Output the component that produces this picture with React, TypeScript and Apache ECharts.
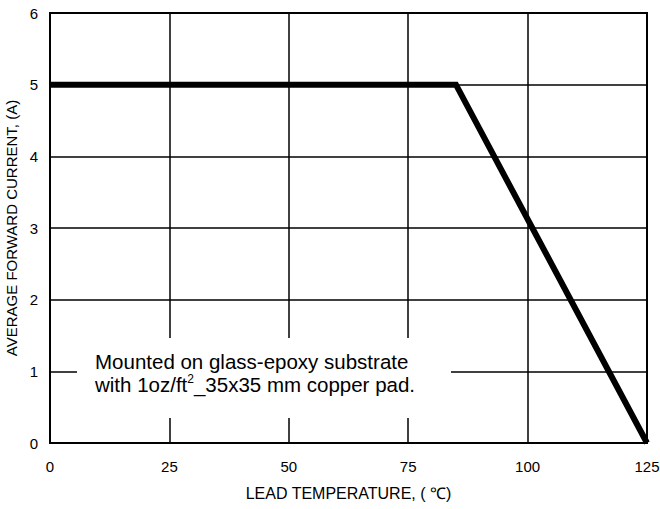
import React, { useEffect, useRef } from "react";
import * as echarts from "echarts";

const xTicks = [0, 25, 50, 75, 100, 125];
const yTicks = [0, 1, 2, 3, 4, 5, 6];
const leadTemperature = [0, 85, 125];
const forwardCurrent = [5, 5, 0];
const noteLine1 = "Mounted on glass-epoxy substrate";
const noteLine2a = "with 1oz/ft";
const noteSup = "2";
const noteLine2b = "_35x35 mm copper pad.";

const FONT = "Liberation Sans, Arial, Helvetica, sans-serif";

export default function App() {
  const ref = useRef<HTMLDivElement>(null);
  useEffect(() => {
    document.body.style.margin = "0";
    if (!ref.current) return;
    const chart = echarts.init(ref.current, undefined, { renderer: "svg" });
    chart.setOption({
      animation: false,
      backgroundColor: "#fff",
      grid: {
        left: 50,
        right: 13,
        top: 13,
        bottom: 66,
        containLabel: false,
        outerBoundsMode: "none",
        show: true,
        borderColor: "#000",
        borderWidth: 2,
        backgroundColor: "transparent",
      },
      xAxis: {
        type: "value",
        min: xTicks[0],
        max: xTicks[xTicks.length - 1],
        interval: 25,
        name: "LEAD TEMPERATURE, ( ℃)",
        nameLocation: "middle",
        nameGap: 42,
        nameTextStyle: { color: "#000", fontSize: 16, fontFamily: FONT },
        axisLine: { show: true, lineStyle: { color: "#000", width: 2 } },
        axisTick: { show: false },
        axisLabel: { color: "#000", fontSize: 15, fontFamily: FONT, margin: 16 },
        splitLine: { show: true, lineStyle: { color: "#000", width: 1.5 } },
      },
      yAxis: {
        type: "value",
        min: yTicks[0],
        max: yTicks[yTicks.length - 1],
        interval: 1,
        name: "AVERAGE FORWARD CURRENT, (A)",
        nameLocation: "middle",
        nameGap: 29,
        nameTextStyle: { color: "#000", fontSize: 15, fontFamily: FONT },
        axisLine: { show: true, lineStyle: { color: "#000", width: 2 } },
        axisTick: { show: false },
        axisLabel: { color: "#000", fontSize: 15, fontFamily: FONT, margin: 12 },
        splitLine: { show: true, lineStyle: { color: "#000", width: 1.5 } },
      },
      series: [
        {
          type: "line",
          data: leadTemperature.map((t, i) => [t, forwardCurrent[i]]),
          symbol: "none",
          z: 5,
          lineStyle: { color: "#000", width: 6, join: "miter" },
        },
      ],
      graphic: [
        {
          type: "rect",
          z: 3,
          shape: { x: 77, y: 338, width: 374, height: 80 },
          style: { fill: "#fff" },
        },
        {
          type: "text",
          z: 4,
          x: 95,
          y: 350,
          style: {
            text: `{a|${noteLine1}}\n{a|${noteLine2a}}{sup|${noteSup}}{a|${noteLine2b}}`,
            fill: "#000",
            rich: {
              a: { fontSize: 20.5, lineHeight: 23, fontFamily: FONT, fill: "#000" },
              sup: { fontSize: 12, lineHeight: 23, fontFamily: FONT, fill: "#000", verticalAlign: "top" },
            },
          },
        },
      ],
    });
    return () => chart.dispose();
  }, []);
  return <div ref={ref} style={{ width: 660, height: 509 }} />;
}
